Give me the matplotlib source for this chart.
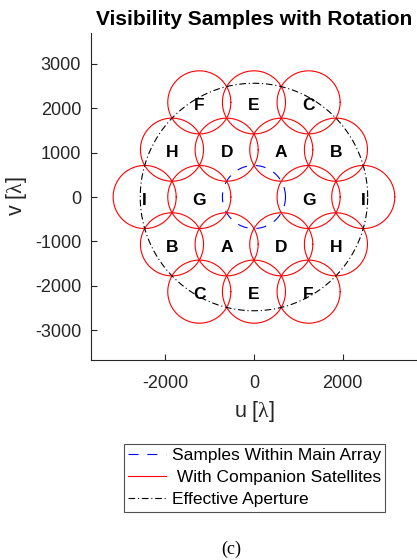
import numpy as np
import matplotlib
matplotlib.use("Agg")
import matplotlib.pyplot as plt

plt.rcParams['font.family'] = ['Liberation Sans', 'DejaVu Sans']
plt.rcParams['mathtext.fontset'] = 'custom'
plt.rcParams['mathtext.rm'] = 'Liberation Serif'
plt.rcParams['mathtext.it'] = 'Liberation Serif:italic'
plt.rcParams['mathtext.default'] = 'rm'
plt.rcParams['axes.unicode_minus'] = False

# hexagonal lattice of companion-satellite sample centres (in wavelengths)
centre_u = [-1230, 0, 1230,
            -1845, -615, 615, 1845,
            -2460, -1230, 1230, 2460,
            -1845, -615, 615, 1845,
            -1230, 0, 1230]
centre_v = [2130, 2130, 2130,
            1065, 1065, 1065, 1065,
            0, 0, 0, 0,
            -1065, -1065, -1065, -1065,
            -2130, -2130, -2130]
centre_labels = ['F', 'E', 'C',
                 'H', 'D', 'A', 'B',
                 'I', 'G', 'G', 'I',
                 'B', 'A', 'D', 'H',
                 'C', 'E', 'F']
sample_radius = 710
main_radius = 710
aperture_radius = 2560

xticks = [-2000, 0, 2000]
yticks = [-3000, -2000, -1000, 0, 1000, 2000, 3000]

fig = plt.figure(figsize=(4.17, 5.6), dpi=100)
ax = fig.add_axes([0.218, 0.357, 0.782, 0.584])

t = np.linspace(0, 2 * np.pi, 400)

ax.plot(main_radius * np.cos(t), main_radius * np.sin(t), color='blue',
        lw=0.8, dashes=(9, 8), label='Samples Within Main Array', zorder=2)

for i, (cu, cv) in enumerate(zip(centre_u, centre_v)):
    ax.plot(cu + sample_radius * np.cos(t), cv + sample_radius * np.sin(t),
            color='red', lw=0.8, zorder=3,
            label=' With Companion Satellites' if i == 0 else None)
    ax.text(cu, cv - 70, centre_labels[i], ha='center', va='center',
            fontsize=12.5, fontweight='bold', zorder=5)

ax.plot(aperture_radius * np.cos(t), aperture_radius * np.sin(t),
        color='black', lw=0.8, dashes=(6, 2.5, 1, 2.5),
        label='Effective Aperture', zorder=4)

ax.set_xlim(-3670, 3670)
ax.set_ylim(-3670, 3690)
ax.set_xticks(xticks)
ax.set_yticks(yticks)
ax.tick_params(direction='in', length=4, labelsize=13, colors='0.15', width=0.8)
ax.tick_params(axis='x', pad=11)
ax.tick_params(axis='y', pad=7)
for s in ['top', 'right']:
    ax.spines[s].set_visible(False)
for s in ['left', 'bottom']:
    ax.spines[s].set_color('0.15')
    ax.spines[s].set_linewidth(0.8)

ax.set_title('Visibility Samples with Rotation', fontsize=15, fontweight='bold', pad=6)
ax.set_xlabel(r'u [$\lambda$]', fontsize=15.5, color='0.15', labelpad=5)
ax.set_ylabel(r'v [$\lambda$]', fontsize=15.5, color='0.15', labelpad=4)

handles, labels = ax.get_legend_handles_labels()
leg = fig.legend(handles, labels, loc='center', bbox_to_anchor=(0.610, 0.147),
                 fontsize=12.5, frameon=True, fancybox=False, edgecolor='0.15',
                 handlelength=2.2, borderpad=0.25, labelspacing=0.4,
                 handletextpad=0.3, borderaxespad=0)
leg.get_frame().set_linewidth(0.8)

fig.text(0.554, 0.004, '(c)', fontsize=13, family='Liberation Serif', ha='center', va='bottom')

fig.savefig('out.png', dpi=100)
